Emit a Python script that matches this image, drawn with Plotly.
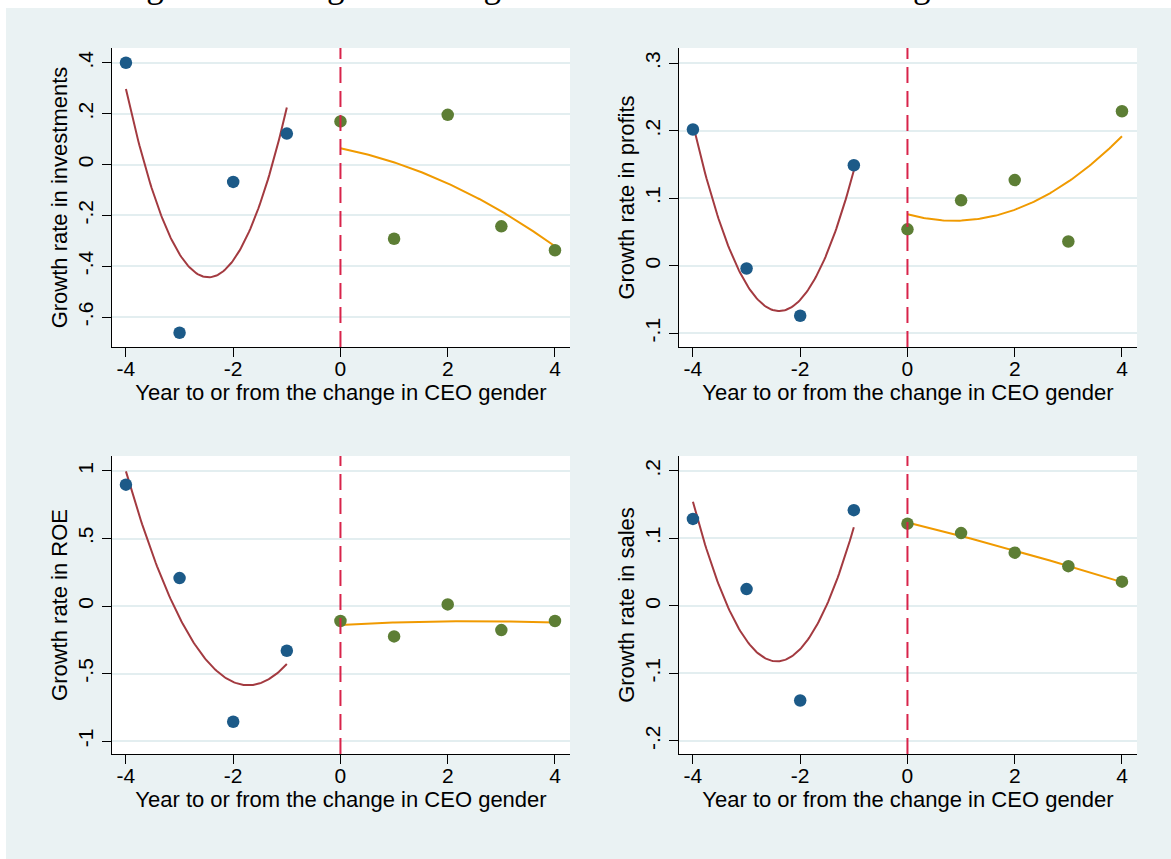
import numpy as np
import plotly.graph_objects as go

# ---------------- data ----------------
years_pre = [-4, -3, -2, -1]
years_post = [0, 1, 2, 3, 4]

invest_pre = [0.401, -0.662, -0.068, 0.122]
invest_post = [0.170, -0.292, 0.196, -0.243, -0.337]

profit_pre = [0.202, -0.004, -0.074, 0.149]
profit_post = [0.054, 0.097, 0.127, 0.036, 0.229]

roe_pre = [0.899, 0.207, -0.857, -0.331]
roe_post = [-0.111, -0.225, 0.012, -0.178, -0.111]

sales_pre = [0.129, 0.025, -0.140, 0.142]
sales_post = [0.122, 0.108, 0.079, 0.059, 0.036]

x_ticks = [-4, -2, 0, 2, 4]
x_ticktext = ["-4", "-2", "0", "2", "4"]

panels = [
    dict(pre=invest_pre, post=invest_post, ytitle="Growth rate in investments",
         yticks=[-0.6, -0.4, -0.2, 0, 0.2, 0.4],
         yticktext=["-.6", "-.4", "-.2", "0", ".2", ".4"], yrange=[-0.718, 0.459]),
    dict(pre=profit_pre, post=profit_post, ytitle="Growth rate in profits",
         yticks=[-0.1, 0, 0.1, 0.2, 0.3],
         yticktext=["-.1", "0", ".1", ".2", ".3"], yrange=[-0.1203, 0.3227]),
    dict(pre=roe_pre, post=roe_post, ytitle="Growth rate in ROE",
         yticks=[-1, -0.5, 0, 0.5, 1],
         yticktext=["-1", "-.5", "0", ".5", "1"], yrange=[-1.096, 1.111]),
    dict(pre=sales_pre, post=sales_post, ytitle="Growth rate in sales",
         yticks=[-0.2, -0.1, 0, 0.1, 0.2],
         yticktext=["-.2", "-.1", "0", ".1", ".2"], yrange=[-0.2193, 0.2222]),
]

title_text = "Figure 1: Change in CEO gender and selected variables: growth rates"
x_title = "Year to or from the change in CEO gender"

# ---------------- style ----------------
W, H = 1171, 859
NAVY = "#1c5a88"
GREEN = "#5d7e35"
RED = "#a33a40"
ORANGE = "#f09a00"
DASH = "#d8234a"
BG = "#eaf2f3"
GRID = "#e3eef0"
FONT = "Liberation Sans"

# plot areas in pixels: (left, right, top, bottom)
boxes = [
    (112, 570, 48, 347),
    (679, 1137, 48, 347),
    (112, 570, 456, 754),
    (679, 1137, 456, 754),
]

fig = go.Figure()

# outer light background region
fig.add_shape(type="rect", xref="paper", yref="paper", x0=6 / W, x1=1.0,
              y0=0, y1=1 - 8 / H, fillcolor=BG, line=dict(width=0), layer="below")


def qfit(xs, ys, lo, hi):
    c = np.polyfit(xs, ys, 2)
    xx = np.linspace(lo, hi, 120)
    return xx, np.polyval(c, xx)


for i, (p, box) in enumerate(zip(panels, boxes)):
    n = "" if i == 0 else str(i + 1)
    xa, ya = "x" + n, "y" + n
    l, r, t, b = box
    fig.add_shape(type="rect", xref="paper", yref="paper", x0=l / W, x1=r / W,
                  y0=1 - b / H, y1=1 - t / H, fillcolor="white", line=dict(width=0),
                  layer="below")
    fig.update_layout({
        "xaxis" + n: dict(
            domain=[l / W, r / W], range=[-4.26, 4.28], anchor=ya,
            tickvals=x_ticks, ticktext=x_ticktext, ticks="outside", ticklen=9,
            tickwidth=1.3, tickcolor="black", showline=True, linecolor="black",
            linewidth=1.3, showgrid=False, zeroline=False, ticklabelstandoff=-6,
            tickfont=dict(family=FONT, size=21, color="black"),
            title=dict(text=x_title, font=dict(family=FONT, size=22, color="black"),
                       standoff=2),
        ),
        "yaxis" + n: dict(
            domain=[1 - b / H, 1 - t / H], range=p["yrange"], anchor=xa,
            tickvals=p["yticks"], ticktext=p["yticktext"], ticks="outside",
            ticklen=9, tickwidth=1.3, tickcolor="black", tickangle=-90,
            showline=True, linecolor="black", linewidth=1.3,
            showgrid=True, gridcolor=GRID, gridwidth=2, zeroline=False,
            tickfont=dict(family=FONT, size=21, color="black"),
            title=dict(text=p["ytitle"], font=dict(family=FONT, size=22, color="black"),
                       standoff=0),
        ),
    })
    # vertical dashed line at 0
    fig.add_shape(type="line", xref=xa, yref=ya + " domain", x0=0, x1=0, y0=0, y1=1,
                  line=dict(color=DASH, width=2, dash="16px,8px"), layer="above")
    # quadratic fits
    fx, fy = qfit(years_pre, p["pre"], -4, -1)
    fig.add_trace(go.Scatter(x=fx, y=fy, mode="lines", line=dict(color=RED, width=2),
                             xaxis=xa, yaxis=ya, showlegend=False, hoverinfo="skip"))
    fx, fy = qfit(years_post, p["post"], 0, 4)
    fig.add_trace(go.Scatter(x=fx, y=fy, mode="lines", line=dict(color=ORANGE, width=2),
                             xaxis=xa, yaxis=ya, showlegend=False, hoverinfo="skip"))
    # points
    fig.add_trace(go.Scatter(x=years_pre, y=p["pre"], mode="markers",
                             marker=dict(color=NAVY, size=12.5, line=dict(width=0)),
                             xaxis=xa, yaxis=ya, showlegend=False))
    fig.add_trace(go.Scatter(x=years_post, y=p["post"], mode="markers",
                             marker=dict(color=GREEN, size=12.5, line=dict(width=0)),
                             xaxis=xa, yaxis=ya, showlegend=False))

# caption at the very top (only its lower part lies inside the picture)
fig.add_annotation(text=title_text, xref="paper", yref="paper", x=602 / W, y=1,
                   xanchor="center", yanchor="middle", yshift=15, showarrow=False,
                   font=dict(family="Liberation Serif", size=35, color="black"))

fig.update_layout(width=W, height=H, margin=dict(l=0, r=0, t=0, b=0),
                  paper_bgcolor="white", plot_bgcolor="rgba(0,0,0,0)",
                  font=dict(family=FONT, color="black"))

fig.write_html("out.html", config={"displayModeBar": False},
               post_script="document.body.style.margin='0';"
                           "document.body.style.overflow='hidden';")
